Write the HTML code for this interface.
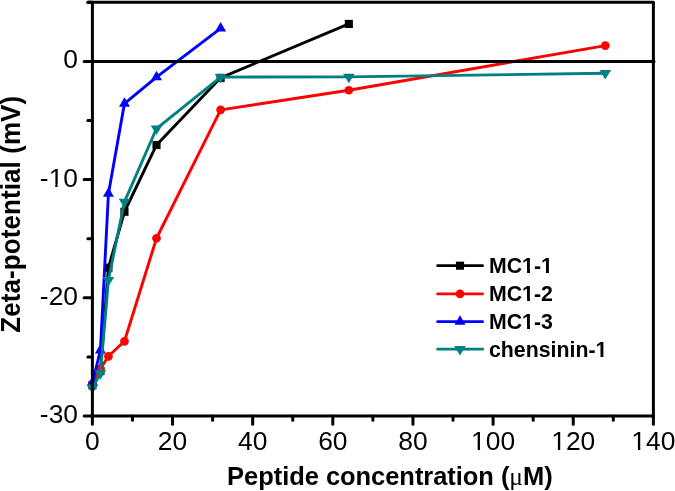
<!DOCTYPE html>
<html><head><meta charset="utf-8"><style>
html,body{margin:0;padding:0;background:#fff;}
svg{display:block;}
.t{font-family:"Liberation Sans",Arial,sans-serif;font-size:26.4px;fill:#000;}
.b{font-family:"Liberation Sans",Arial,sans-serif;font-size:26px;font-weight:bold;fill:#000;}
.mu{font-family:"Liberation Serif","Times New Roman",serif;font-weight:normal;}
.l{font-family:"Liberation Sans",Arial,sans-serif;font-size:21.3px;font-weight:bold;fill:#000;}
</style></head><body>
<svg width="675" height="491" viewBox="0 0 675 491">
<rect width="675" height="491" fill="#fff"/>
<polyline points="92.40,385.27 100.41,371.08 108.43,267.66 124.46,211.75 156.51,144.97 220.62,77.83 348.85,23.93" fill="none" stroke="#000000" stroke-width="2.9" stroke-linejoin="round" stroke-linecap="round"/>
<rect x="88.35" y="381.22" width="8.10" height="8.10" fill="#000000"/>
<rect x="96.36" y="367.03" width="8.10" height="8.10" fill="#000000"/>
<rect x="104.38" y="263.61" width="8.10" height="8.10" fill="#000000"/>
<rect x="120.41" y="207.70" width="8.10" height="8.10" fill="#000000"/>
<rect x="152.46" y="140.92" width="8.10" height="8.10" fill="#000000"/>
<rect x="216.57" y="73.78" width="8.10" height="8.10" fill="#000000"/>
<rect x="344.80" y="19.88" width="8.10" height="8.10" fill="#000000"/>
<polyline points="92.40,384.09 100.41,368.72 108.43,356.31 124.46,341.30 156.51,238.23 220.62,109.86 348.85,90.24 605.30,45.56" fill="none" stroke="#ff0000" stroke-width="2.9" stroke-linejoin="round" stroke-linecap="round"/>
<circle cx="92.40" cy="384.09" r="4.35" fill="#ff0000"/>
<circle cx="100.41" cy="368.72" r="4.35" fill="#ff0000"/>
<circle cx="108.43" cy="356.31" r="4.35" fill="#ff0000"/>
<circle cx="124.46" cy="341.30" r="4.35" fill="#ff0000"/>
<circle cx="156.51" cy="238.23" r="4.35" fill="#ff0000"/>
<circle cx="220.62" cy="109.86" r="4.35" fill="#ff0000"/>
<circle cx="348.85" cy="90.24" r="4.35" fill="#ff0000"/>
<circle cx="605.30" cy="45.56" r="4.35" fill="#ff0000"/>
<polyline points="92.40,382.90 100.41,350.40 108.43,193.67 124.46,103.60 156.51,77.12 220.62,28.30" fill="none" stroke="#0000ff" stroke-width="2.9" stroke-linejoin="round" stroke-linecap="round"/>
<polygon points="92.40,376.57 97.90,386.07 86.90,386.07" fill="#0000ff"/>
<polygon points="100.41,344.07 105.91,353.57 94.91,353.57" fill="#0000ff"/>
<polygon points="108.43,187.33 113.93,196.83 102.93,196.83" fill="#0000ff"/>
<polygon points="124.46,97.26 129.96,106.76 118.96,106.76" fill="#0000ff"/>
<polygon points="156.51,70.79 162.01,80.29 151.01,80.29" fill="#0000ff"/>
<polygon points="220.62,21.97 226.12,31.47 215.12,31.47" fill="#0000ff"/>
<polyline points="92.40,387.63 100.41,373.45 108.43,280.07 124.46,201.82 156.51,128.54 220.62,77.12 348.85,76.88 605.30,73.22" fill="none" stroke="#008080" stroke-width="2.9" stroke-linejoin="round" stroke-linecap="round"/>
<polygon points="86.60,384.50 98.20,384.50 92.40,393.90" fill="#008080"/>
<polygon points="94.61,370.31 106.21,370.31 100.41,379.71" fill="#008080"/>
<polygon points="102.63,276.94 114.23,276.94 108.43,286.34" fill="#008080"/>
<polygon points="118.66,198.69 130.26,198.69 124.46,208.09" fill="#008080"/>
<polygon points="150.71,125.40 162.31,125.40 156.51,134.80" fill="#008080"/>
<polygon points="214.82,73.99 226.42,73.99 220.62,83.39" fill="#008080"/>
<polygon points="343.05,73.75 354.65,73.75 348.85,83.15" fill="#008080"/>
<polygon points="599.50,70.09 611.10,70.09 605.30,79.49" fill="#008080"/>
<line x1="87.90" y1="2.30" x2="653.38" y2="2.30" stroke="#000" stroke-width="3" stroke-linecap="round"/>
<line x1="84.10" y1="416.00" x2="92.40" y2="416.00" stroke="#000" stroke-width="3" stroke-linecap="round"/>
<line x1="87.90" y1="356.90" x2="92.40" y2="356.90" stroke="#000" stroke-width="3" stroke-linecap="round"/>
<line x1="84.10" y1="297.80" x2="92.40" y2="297.80" stroke="#000" stroke-width="3" stroke-linecap="round"/>
<line x1="87.90" y1="238.70" x2="92.40" y2="238.70" stroke="#000" stroke-width="3" stroke-linecap="round"/>
<line x1="84.10" y1="179.60" x2="92.40" y2="179.60" stroke="#000" stroke-width="3" stroke-linecap="round"/>
<line x1="87.90" y1="120.50" x2="92.40" y2="120.50" stroke="#000" stroke-width="3" stroke-linecap="round"/>
<line x1="84.10" y1="61.40" x2="92.40" y2="61.40" stroke="#000" stroke-width="3" stroke-linecap="round"/>
<line x1="87.90" y1="2.30" x2="92.40" y2="2.30" stroke="#000" stroke-width="3" stroke-linecap="round"/>
<line x1="92.40" y1="416.00" x2="92.40" y2="424.30" stroke="#000" stroke-width="3" stroke-linecap="round"/>
<line x1="132.47" y1="416.00" x2="132.47" y2="420.20" stroke="#000" stroke-width="3" stroke-linecap="round"/>
<line x1="172.54" y1="416.00" x2="172.54" y2="424.30" stroke="#000" stroke-width="3" stroke-linecap="round"/>
<line x1="212.61" y1="416.00" x2="212.61" y2="420.20" stroke="#000" stroke-width="3" stroke-linecap="round"/>
<line x1="252.68" y1="416.00" x2="252.68" y2="424.30" stroke="#000" stroke-width="3" stroke-linecap="round"/>
<line x1="292.75" y1="416.00" x2="292.75" y2="420.20" stroke="#000" stroke-width="3" stroke-linecap="round"/>
<line x1="332.82" y1="416.00" x2="332.82" y2="424.30" stroke="#000" stroke-width="3" stroke-linecap="round"/>
<line x1="372.89" y1="416.00" x2="372.89" y2="420.20" stroke="#000" stroke-width="3" stroke-linecap="round"/>
<line x1="412.96" y1="416.00" x2="412.96" y2="424.30" stroke="#000" stroke-width="3" stroke-linecap="round"/>
<line x1="453.03" y1="416.00" x2="453.03" y2="420.20" stroke="#000" stroke-width="3" stroke-linecap="round"/>
<line x1="493.10" y1="416.00" x2="493.10" y2="424.30" stroke="#000" stroke-width="3" stroke-linecap="round"/>
<line x1="533.17" y1="416.00" x2="533.17" y2="420.20" stroke="#000" stroke-width="3" stroke-linecap="round"/>
<line x1="573.24" y1="416.00" x2="573.24" y2="424.30" stroke="#000" stroke-width="3" stroke-linecap="round"/>
<line x1="613.31" y1="416.00" x2="613.31" y2="420.20" stroke="#000" stroke-width="3" stroke-linecap="round"/>
<line x1="653.38" y1="416.00" x2="653.38" y2="424.30" stroke="#000" stroke-width="3" stroke-linecap="round"/>
<polyline points="92.40,416.00 653.38,416.00 653.38,2.30" fill="none" stroke="#000" stroke-width="3" stroke-linejoin="round"/>
<line x1="92.40" y1="416.00" x2="92.40" y2="2.30" stroke="#000" stroke-width="3"/>
<line x1="92.40" y1="61.40" x2="653.98" y2="61.40" stroke="#000" stroke-width="3" stroke-linecap="round"/>
<text x="78" y="423.00" text-anchor="end" class="t">-30</text>
<text x="78" y="304.80" text-anchor="end" class="t">-20</text>
<text x="78" y="186.60" text-anchor="end" class="t">-10</text>
<text x="78" y="68.40" text-anchor="end" class="t">0</text>
<text x="92.40" y="450.3" text-anchor="middle" class="t">0</text>
<text x="172.54" y="450.3" text-anchor="middle" class="t">20</text>
<text x="252.68" y="450.3" text-anchor="middle" class="t">40</text>
<text x="332.82" y="450.3" text-anchor="middle" class="t">60</text>
<text x="412.96" y="450.3" text-anchor="middle" class="t">80</text>
<text x="493.10" y="450.3" text-anchor="middle" class="t">100</text>
<text x="573.24" y="450.3" text-anchor="middle" class="t">120</text>
<text x="653.38" y="450.3" text-anchor="middle" class="t">140</text>
<text transform="translate(389.9,485.0) scale(1,1.025)" x="0" y="0" text-anchor="middle" class="b" style="font-size:25.5px" textLength="325.6" lengthAdjust="spacing">Peptide concentration (<tspan class="mu">μ</tspan>M)</text>
<text transform="translate(19.9,214.3) rotate(-90) scale(1,1.035)" text-anchor="middle" class="b" textLength="237" lengthAdjust="spacing">Zeta-potential (mV)</text>
<line x1="437.6" y1="265.7" x2="482.6" y2="265.7" stroke="#000000" stroke-width="2.7" stroke-linecap="round"/>
<rect x="455.95" y="261.65" width="8.10" height="8.10" fill="#000000"/>
<text x="489" y="273.00" class="l">MC1-1</text>
<line x1="437.6" y1="293.9" x2="482.6" y2="293.9" stroke="#ff0000" stroke-width="2.7" stroke-linecap="round"/>
<circle cx="460.00" cy="293.90" r="4.35" fill="#ff0000"/>
<text x="489" y="301.20" class="l">MC1-2</text>
<line x1="437.6" y1="321.7" x2="482.6" y2="321.7" stroke="#0000ff" stroke-width="2.7" stroke-linecap="round"/>
<polygon points="460.00,315.37 465.50,324.87 454.50,324.87" fill="#0000ff"/>
<text x="489" y="329.00" class="l">MC1-3</text>
<line x1="437.6" y1="349.2" x2="482.6" y2="349.2" stroke="#008080" stroke-width="2.7" stroke-linecap="round"/>
<polygon points="454.20,346.07 465.80,346.07 460.00,355.47" fill="#008080"/>
<text x="489" y="356.50" class="l">chensinin-1</text>
<g id="m1"><rect x="50" y="184" width="5.26" height="3" fill="#fff"/><rect x="57.60" y="184" width="5.40" height="3" fill="#fff"/><rect x="472" y="448" width="5.72" height="3" fill="#fff"/><rect x="480.05" y="448" width="4.95" height="3" fill="#fff"/><rect x="552" y="448" width="5.86" height="3" fill="#fff"/><rect x="560.19" y="448" width="4.81" height="3" fill="#fff"/><rect x="633" y="448" width="5.00" height="3" fill="#fff"/><rect x="640.33" y="448" width="5.67" height="3" fill="#fff"/><rect x="523" y="270" width="4.08" height="4" fill="#fff"/><rect x="530.00" y="270" width="4.00" height="4" fill="#fff"/><rect x="542" y="270" width="4.02" height="4" fill="#fff"/><rect x="548.94" y="270" width="4.06" height="4" fill="#fff"/><rect x="523" y="298" width="4.08" height="4" fill="#fff"/><rect x="530.00" y="298" width="4.00" height="4" fill="#fff"/><rect x="523" y="326" width="4.08" height="4" fill="#fff"/><rect x="530.00" y="326" width="4.00" height="4" fill="#fff"/><rect x="596" y="354" width="4.46" height="3" fill="#fff"/><rect x="603.38" y="354" width="4.62" height="3" fill="#fff"/></g>
</svg>
</body></html>
